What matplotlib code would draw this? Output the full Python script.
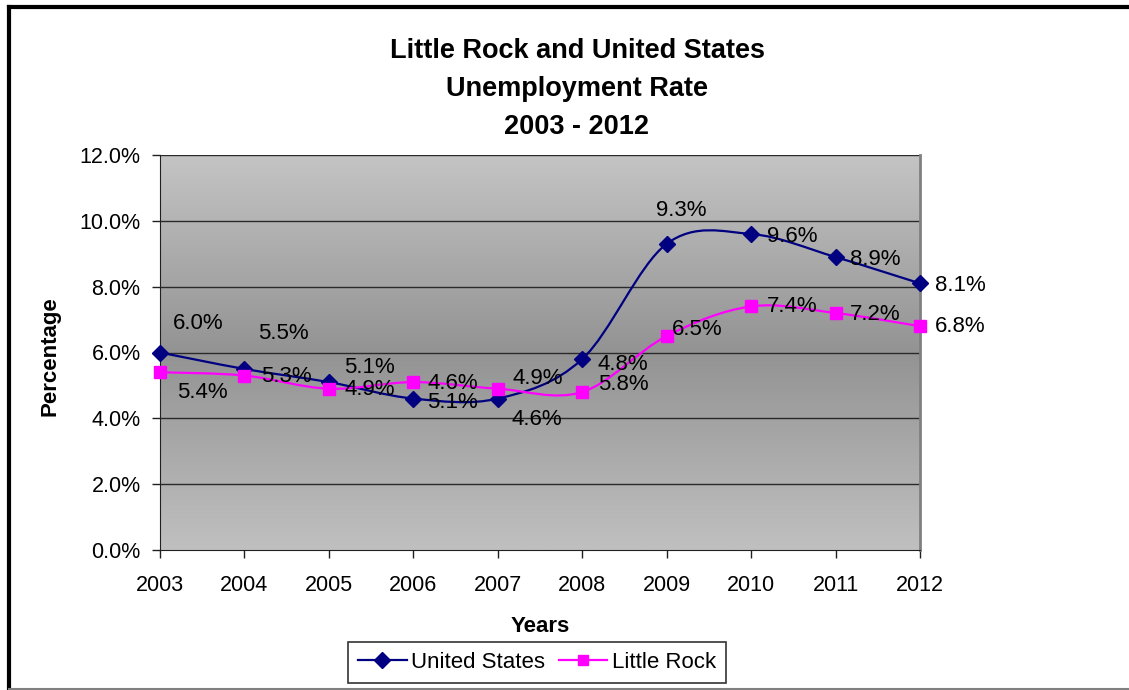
import matplotlib
matplotlib.use("Agg")
import matplotlib.pyplot as plt
import numpy as np
from matplotlib.path import Path
from matplotlib.patches import PathPatch
from matplotlib.lines import Line2D
from matplotlib.colors import LinearSegmentedColormap

plt.rcParams['font.family'] = ['Liberation Sans', 'DejaVu Sans']

#----------------------------------data-----------------------------------------
years = [2003, 2004, 2005, 2006, 2007, 2008, 2009, 2010, 2011, 2012]
us_rate = [6.0, 5.5, 5.1, 4.6, 4.6, 5.8, 9.3, 9.6, 8.9, 8.1]
lr_rate = [5.4, 5.3, 4.9, 5.1, 4.9, 4.8, 6.5, 7.4, 7.2, 6.8]
yticks = [0, 2, 4, 6, 8, 10, 12]

# label offsets from each marker, in pixels (dx, dy), as they were dragged in the sheet
us_label_off = [(38, 29), (39, 35), (41, 15), (39, 15), (39, -21),
                (41, -25), (15, 33), (41, -2), (40, -2), (40, -2)]
lr_label_off = [(42, -20), (42, -1), (41, -1), (39, -20), (40, 10),
                (41, 28), (31, 7), (41, 0), (40, -2), (40, 0)]

US_COLOR = '#000080'
LR_COLOR = '#FF00FF'


def smooth_path(xs, ys):
    # excel style smoothed line: bezier segments with catmull-rom control points
    n = len(xs)
    verts = [(xs[0], ys[0])]
    codes = [Path.MOVETO]
    for i in range(n - 1):
        a = i - 1 if i > 0 else i
        d = i + 2 if i + 2 < n else i + 1
        c1 = (xs[i] + (xs[i + 1] - xs[a]) / 6.0, ys[i] + (ys[i + 1] - ys[a]) / 6.0)
        c2 = (xs[i + 1] - (xs[d] - xs[i]) / 6.0, ys[i + 1] - (ys[d] - ys[i]) / 6.0)
        verts += [c1, c2, (xs[i + 1], ys[i + 1])]
        codes += [Path.CURVE4] * 3
    return Path(verts, codes)


fig = plt.figure(figsize=(11.29, 6.9), dpi=100)
ax = fig.add_axes([160 / 1129, 1 - 550 / 690, 760 / 1129, 395 / 690])

# gray gradient plot area: light at top and bottom, darker in the middle
cmap = LinearSegmentedColormap.from_list('pa', ['#c4c4c4', '#939393', '#c0c0c0'])
grad = np.linspace(0, 1, 256).reshape(-1, 1)
ax.imshow(grad, cmap=cmap, aspect='auto', extent=[0, 1, 0, 1],
          transform=ax.transAxes, zorder=0)

ax.set_xlim(years[0], years[-1])
ax.set_ylim(yticks[0], yticks[-1])

for y in yticks[1:]:
    ax.axhline(y, color='#2a2a2a', lw=1.0, zorder=1)

ax.add_patch(PathPatch(smooth_path(years, us_rate), fill=False, edgecolor=US_COLOR,
                       lw=1.6, zorder=3, clip_on=False))
ax.add_patch(PathPatch(smooth_path(years, lr_rate), fill=False, edgecolor=LR_COLOR,
                       lw=1.6, zorder=3, clip_on=False))
ax.plot(years, us_rate, linestyle='none', marker='D', ms=8.5, color=US_COLOR,
        zorder=4, clip_on=False)
ax.plot(years, lr_rate, linestyle='none', marker='s', ms=8, color=LR_COLOR,
        zorder=4, clip_on=False)

for x, v, (dx, dy) in zip(years, us_rate, us_label_off):
    ax.annotate("{0:.1f}%".format(v), (x, v), xytext=(dx, dy),
                textcoords='offset pixels', ha='center', va='center',
                fontsize=16, color='black', zorder=5, annotation_clip=False)
for x, v, (dx, dy) in zip(years, lr_rate, lr_label_off):
    ax.annotate("{0:.1f}%".format(v), (x, v), xytext=(dx, dy),
                textcoords='offset pixels', ha='center', va='center',
                fontsize=16, color='black', zorder=5, annotation_clip=False)

ax.set_xticks(years)
ax.set_xticklabels([str(y) for y in years])
ax.set_yticks(yticks)
ax.set_yticklabels(["{0:.1f}%".format(y) for y in yticks])
ax.tick_params(axis='both', direction='out', length=6, width=1, color='#202020',
               labelsize=15.5)
ax.tick_params(axis='y', pad=8)
ax.tick_params(axis='x', pad=12)

ax.spines['left'].set_color('#202020')
ax.spines['bottom'].set_color('#202020')
ax.spines['top'].set_visible(False)
ax.spines['right'].set_color('#808080')
ax.spines['right'].set_linewidth(2)

ax.set_xlabel('Years', fontsize=16, fontweight='bold')
ax.xaxis.set_label_coords(0.5, -0.168)
ax.set_ylabel('Percentage', fontsize=16, fontweight='bold')
ax.yaxis.set_label_coords(-0.131, 0.49)

fig.text(577 / 1129, 1 - 89 / 690,
         'Little Rock and United States\nUnemployment Rate\n2003 - 2012',
         ha='center', va='center', fontsize=19.5, fontweight='bold', linespacing=1.58)

handles = [Line2D([], [], color=US_COLOR, marker='D', ms=8, lw=1.6),
           Line2D([], [], color=LR_COLOR, marker='s', ms=7.5, lw=1.6)]
leg = fig.legend(handles, ['United States', 'Little Rock'], loc='center',
                 bbox_to_anchor=(537 / 1129, 1 - 662.5 / 690), ncol=2, fontsize=16,
                 frameon=True, fancybox=False, edgecolor='black', handlelength=2.2,
                 handletextpad=0.2, columnspacing=0.6, borderpad=0.45, borderaxespad=0)
leg.get_frame().set_linewidth(1.2)

# chart area border (cropped on the right)
fig.add_artist(Line2D([9 / 1129, 9 / 1129], [0, 1 - 7 / 690], color='black', lw=3))
fig.add_artist(Line2D([9 / 1129, 1], [1 - 7 / 690, 1 - 7 / 690], color='black', lw=3))
fig.add_artist(Line2D([9 / 1129, 1], [1 / 690, 1 / 690], color='#808080', lw=1.5))

fig.savefig('out.png', dpi=100)
